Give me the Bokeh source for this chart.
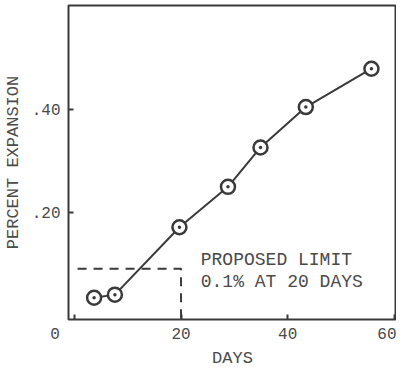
from bokeh.plotting import figure
from bokeh.models import FixedTicker, Range1d
from bokeh.models import Label
from bokeh.core.properties import value
from bokeh.embed import file_html
from bokeh.resources import INLINE

# data
days = [3.7, 7.6, 19.7, 28.8, 34.9, 43.4, 55.7]
expansion = [0.036, 0.042, 0.172, 0.250, 0.326, 0.404, 0.478]
limit_x = [0.6, 20, 20]
limit_y = [0.092, 0.092, -0.01]
x_ticks = [0, 20, 40, 60]
x_tick_labels = ["0\u00a0\u00a0\u00a0\u00a0", "20", "40", "60"]
y_ticks = [0.2, 0.4]
y_tick_labels = [".20", ".40"]
note_lines = ["PROPOSED LIMIT", "0.1% AT 20 DAYS"]

FONT = "Liberation Mono"
INK = "#3a3a3a"
TXT = "#4a4a4a"

p = figure(width=396, height=370, output_backend="svg", toolbar_location=None,
           x_range=Range1d(-1.1, 60.4), y_range=Range1d(-0.006, 0.6),
           min_border_left=63, min_border_right=0, min_border_top=5, min_border_bottom=38)
p.background_fill_color = "white"
p.border_fill_color = "white"
p.outline_line_color = INK
p.outline_line_width = 2
p.grid.visible = False

for ax in (p.xaxis[0], p.yaxis[0]):
    ax.axis_line_color = None
    ax.major_tick_in = 5
    ax.major_tick_out = 0
    ax.major_tick_line_color = INK
    ax.major_tick_line_width = 2
    ax.minor_tick_line_color = None
    ax.major_label_text_font = FONT
    ax.major_label_text_font_size = "16px"
    ax.major_label_text_color = TXT
    ax.axis_label_text_font = FONT
    ax.axis_label_text_font_size = "17px"
    ax.axis_label_text_font_style = "normal"
    ax.axis_label_text_color = TXT

p.xaxis.ticker = FixedTicker(ticks=x_ticks)
p.yaxis.ticker = FixedTicker(ticks=y_ticks)
p.xaxis.major_label_overrides = {t: s for t, s in zip(x_ticks, x_tick_labels)}
p.yaxis.major_label_overrides = {t: s for t, s in zip(y_ticks, y_tick_labels)}
p.xaxis.axis_label = "DAYS"
p.yaxis.axis_label = "PERCENT EXPANSION"
p.xaxis.major_label_standoff = 6
p.xaxis.axis_label_standoff = 2
p.yaxis.major_label_standoff = 8
p.yaxis.axis_label_standoff = 6

p.line(limit_x, limit_y, line_color=INK, line_width=2, line_dash="9 7")
p.line(days, expansion, line_color=INK, line_width=2)
p.scatter(days, expansion, marker="circle_dot", size=14, line_color=INK,
          line_width=2.5, fill_color="white")

for i, t in enumerate(note_lines):
    p.add_layout(Label(x=23.7, y=0.109 - i * 0.042, text=t, text_font=FONT,
                       text_font_size="18px", text_color=TXT, text_baseline="middle"))

open("out.html", "w").write(file_html(p, INLINE))
